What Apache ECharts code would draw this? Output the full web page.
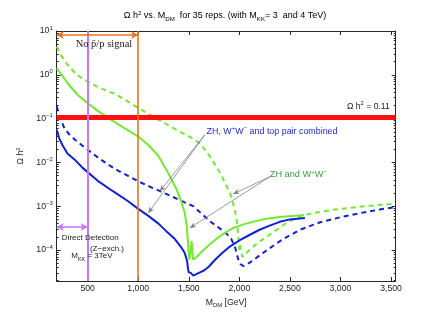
<!DOCTYPE html>
<html><head><meta charset="utf-8">
<script src="https://cdn.jsdelivr.net/npm/echarts@6/dist/echarts.min.js"></script>
<style>html,body{margin:0;padding:0;background:#fff}#c{width:436px;height:319px}</style>
</head><body><div id="c"></div>
<script>
// ---- data ----
const greenDashX = [194,240,292,391,500,620,753,880,1000,1150,1300,1414,1512,1612,1711,1810,1907,1956,1975,1990,2000,2008,2015,2031,2050,2100,2180,2269,2370,2466,2550,2630,2780,2927,3100,3300,3546];
const greenDashY = [4.4,2.7,1.8,1.0,0.7,0.5,0.38,0.26,0.175,0.11,0.07,0.05,0.038,0.027,0.0135,5.7e-3,2.0e-3,8.3e-4,4.5e-4,2e-4,1.0e-4,1.3e-4,9e-5,6.9e-5,7.5e-5,1.0e-4,1.45e-4,2.0e-4,2.9e-4,4.2e-4,5.2e-4,6.2e-4,7.3e-4,8.3e-4,9.2e-4,1.03e-3,1.14e-3];
const greenSolidX = [194,250,300,400,500,600,700,800,900,1000,1100,1200,1300,1380,1430,1460,1480,1494,1500,1506,1518,1528,1536,1544,1580,1620,1700,1780,1860,1940,2050,2150,2270,2400,2520,2640];
const greenSolidY = [1.4,0.95,0.65,0.35,0.225,0.15,0.105,0.075,0.054,0.039,0.025,0.014,5.5e-3,2.4e-3,1.2e-3,7e-4,3.5e-4,1.3e-4,8e-5,6e-5,9e-5,1.6e-4,9e-5,6e-5,7e-5,8.8e-5,1.3e-4,1.85e-4,2.5e-4,3.2e-4,3.9e-4,4.5e-4,5.2e-4,5.7e-4,6.0e-4,6.3e-4];
const blueDashX = [194,230,270,320,375,440,500,600,700,800,900,1000,1100,1215,1350,1450,1544,1620,1710,1800,1870,1920,1960,1990,2010,2038,2070,2120,2200,2300,2420,2600,2800,3000,3200,3400,3546];
const blueDashY = [0.19,0.1,0.06,0.043,0.033,0.025,0.0195,0.013,9e-3,6.5e-3,4.9e-3,3.7e-3,2.9e-3,2.2e-3,1.6e-3,1.25e-3,1.0e-3,7e-4,4.5e-4,3.2e-4,2.4e-4,1.8e-4,1.1e-4,6e-5,4.8e-5,4.3e-5,4.6e-5,5.5e-5,7.5e-5,1.1e-4,1.7e-4,2.9e-4,4.3e-4,5.6e-4,7e-4,8.5e-4,9.5e-4];
const blueSolidX = [194,220,250,300,375,450,500,600,750,900,1000,1100,1200,1280,1360,1420,1460,1484,1494,1500,1520,1544,1600,1650,1700,1760,1830,1906,2000,2100,2200,2300,2400,2500,2648];
const blueSolidY = [0.055,0.035,0.025,0.016,0.0114,7.5e-3,6e-3,3.8e-3,2.2e-3,1.3e-3,8.7e-4,6.0e-4,4e-4,2.66e-4,1.8e-4,1.2e-4,8.5e-5,5.5e-5,3.5e-5,3.1e-5,3.0e-5,2.6e-5,3.0e-5,3.4e-5,4.2e-5,6e-5,8.5e-5,1.2e-4,1.65e-4,2.2e-4,2.9e-4,3.6e-4,4.4e-4,5e-4,5.4e-4];
const xTicks = [500,1000,1500,2000,2500,3000,3500];
const relicDensity = 0.11;
const noAntiprotonBound = 1000;
const directDetectionBound = 500;

// ---- layout / style ----
const FONT = 'Liberation Sans, Arial, sans-serif';
const SERIF = 'Liberation Serif, DejaVu Serif, serif';
const GREEN = '#72ea2f', BLUE = '#0f22d4', ORANGE = '#e8731c', PURPLE = '#c977f2', RED = '#ff1010';
const AX = '#262626';
const xmin = 194, xmax = 3546, ymin = 1.96e-5, ymax = 10;
const lmin = Math.log10(ymin), lmax = Math.log10(ymax);
const minorLog = [];
for (let e = -5; e <= 0; e++) for (let k = 2; k <= 9; k++) { const v = Math.log10(k) + e; if (v > lmin && v < lmax) minorLog.push(v); }
const majorLog = [-4,-3,-2,-1,0,1];

const pts = (xs, ys) => xs.map((x, i) => [x, ys[i]]);
const richBase = (fs) => ({
  n: {fontSize: fs, lineHeight: 12, fontFamily: FONT, color: '#222'},
  sup: {fontSize: fs*0.68, lineHeight: fs*0.68, verticalAlign: 'top', fontFamily: FONT, color: '#222'},
  sub: {fontSize: fs*0.68, lineHeight: fs*0.68, verticalAlign: 'bottom', fontFamily: FONT, color: '#222'}
});
const fmtLog = v => {
  const e = Math.log10(v), r = Math.round(e);
  if (Math.abs(e - r) > 1e-6) return '';
  return '{n|10}{sup|' + (r < 0 ? '\u2212' + (-r) : r) + '}';
};
const lineAxis = {show: true, onZero: false, lineStyle: {color: AX, width: 1}};

const chart = echarts.init(document.getElementById('c'), null, {renderer: 'canvas'});
const option = {
  animation: false,
  backgroundColor: '#fff',
  grid: {left: 56.7, right: 40.3, top: 31, bottom: 38, containLabel: false},
  xAxis: [
    {type: 'value', min: xmin, max: xmax, position: 'bottom', axisLine: lineAxis,
     axisTick: {show: true, inside: true, length: 4, customValues: xTicks, lineStyle: {color: AX}},
     axisLabel: {customValues: xTicks, formatter: v => v.toLocaleString('en-US'), fontSize: 8.7, color: '#222', margin: 3, fontFamily: FONT},
     splitLine: {show: false},
     name: '{n|M}{sub|DM}{n| [GeV]}', nameLocation: 'middle', nameGap: 13,
     nameTextStyle: {rich: richBase(8.7)}},
    {type: 'value', min: xmin, max: xmax, position: 'top', axisLine: lineAxis,
     axisTick: {show: true, inside: true, length: 4, customValues: xTicks, lineStyle: {color: AX}},
     axisLabel: {show: false}, splitLine: {show: false}}
  ],
  yAxis: [
    {type: 'log', logBase: 10, min: ymin, max: ymax, position: 'left', axisLine: lineAxis,
     axisTick: {show: true, inside: true, length: 4, lineStyle: {color: AX}},
     axisLabel: {formatter: fmtLog, margin: 4, rich: richBase(8.7)},
     splitLine: {show: false}, minorTick: {show: false},
     name: '{n|\u03A9 h}{sup|2}', nameLocation: 'middle', nameGap: 23, nameRotate: 90,
     nameTextStyle: {rich: richBase(8.7)}},
    {type: 'value', min: lmin, max: lmax, position: 'left', axisLine: {show: false, onZero: false},
     axisTick: {show: true, inside: true, length: 2, customValues: minorLog, lineStyle: {color: AX}},
     axisLabel: {show: false}, splitLine: {show: false}},
    {type: 'value', min: lmin, max: lmax, position: 'right', axisLine: lineAxis,
     axisTick: {show: true, inside: true, length: 4, customValues: majorLog, lineStyle: {color: AX}},
     axisLabel: {show: false}, splitLine: {show: false}},
    {type: 'value', min: lmin, max: lmax, position: 'right', axisLine: {show: false, onZero: false},
     axisTick: {show: true, inside: true, length: 2, customValues: minorLog, lineStyle: {color: AX}},
     axisLabel: {show: false}, splitLine: {show: false}}
  ],
  series: [
    {type: 'line', data: pts(greenDashX, greenDashY), showSymbol: false, silent: true, z: 2,
     lineStyle: {color: GREEN, width: 2, type: [5, 4]}},
    {type: 'line', data: pts(blueDashX, blueDashY), showSymbol: false, silent: true, z: 2,
     lineStyle: {color: BLUE, width: 2, type: [5, 4]}},
    {type: 'line', data: pts(greenSolidX, greenSolidY), showSymbol: false, silent: true, z: 3,
     lineStyle: {color: GREEN, width: 2}},
    {type: 'line', data: pts(blueSolidX, blueSolidY), showSymbol: false, silent: true, z: 3,
     lineStyle: {color: BLUE, width: 2}},
    {type: 'line', data: [], z: 4, silent: true,
     markLine: {silent: true, animation: false, symbol: 'none', label: {show: false},
       emphasis: {disabled: true},
       data: [
         {yAxis: relicDensity, lineStyle: {color: RED, width: 5, type: 'solid'}},
         {xAxis: noAntiprotonBound, lineStyle: {color: ORANGE, width: 1.6, type: 'solid'}},
         {xAxis: directDetectionBound, lineStyle: {color: PURPLE, width: 2, type: 'solid'}},
         [{coord: [xmin, 8.1], symbol: 'arrow', symbolSize: [6, 7], lineStyle: {color: ORANGE, width: 1.6, type: 'solid'}},
          {coord: [noAntiprotonBound, 8.1], symbol: 'arrow', symbolSize: [6, 7]}],
         [{coord: [xmin, 3.35e-4], symbol: 'arrow', symbolSize: [6, 7], lineStyle: {color: PURPLE, width: 1.6, type: 'solid'}},
          {coord: [directDetectionBound, 3.35e-4], symbol: 'arrow', symbolSize: [6, 7]}],
         [{coord: [1659, 0.0427], symbol: 'none', lineStyle: {color: '#808080', width: 0.8, type: 'solid'}},
          {coord: [1214, 2.2e-3], symbol: 'arrow', symbolSize: [4, 6]}],
         [{coord: [1659, 0.0427], symbol: 'none', lineStyle: {color: '#808080', width: 0.8, type: 'solid'}},
          {coord: [1099, 7.0e-4], symbol: 'arrow', symbolSize: [4, 6]}],
         [{coord: [2301, 4.7e-3], symbol: 'none', lineStyle: {color: '#808080', width: 0.8, type: 'solid'}},
          {coord: [1939, 1.9e-3], symbol: 'arrow', symbolSize: [4, 6]}],
         [{coord: [2301, 4.7e-3], symbol: 'none', lineStyle: {color: '#808080', width: 0.8, type: 'solid'}},
          {coord: [1511, 3.2e-4], symbol: 'arrow', symbolSize: [4, 6]}]
       ]}}
  ]
};
chart.setOption(option);

const px = (x, y) => chart.convertToPixel({xAxisIndex: 0, yAxisIndex: 0}, [x, y]);
function txt(pos, text, opts) {
  const p = px(pos[0], pos[1]);
  return {type: 'text', x: p[0], y: p[1], silent: true, z: 10,
    style: Object.assign({text: text, fontFamily: FONT, fontSize: 8.5, fill: '#222', align: 'center', verticalAlign: 'middle'}, opts)};
}
const colRich = (fs, col) => {
  const r = richBase(fs);
  Object.keys(r).forEach(k => { r[k].color = col; r[k].fill = col; });
  return r;
};
chart.setOption({graphic: [
  {type: 'text', x: 225, y: 16, silent: true,
   style: {text: '{n|\u03A9 h}{sup|2}{n| vs. M}{sub|DM}{n|  for 35 reps. (with M}{sub|KK}{n|= 3  and 4 TeV)}',
     rich: richBase(9), align: 'center', verticalAlign: 'middle'}},
  txt([661, 4.98], 'No p\u0304/p signal', {fontFamily: SERIF, fontSize: 10.5}),
  txt([3487, 0.188], '{n|\u03A9 h}{sup|2}{n| = 0.11}', {rich: richBase(8.6), align: 'right'}),
  txt([1676, 0.051], '{n|ZH, W}{sup|+}{n|W}{sup|\u2212}{n| and top pair combined}', {rich: colRich(8.9, '#2424d8'), align: 'left'}),
  txt([2301, 5.2e-3], '{n|ZH and W}{sup|+}{n|W}{sup|\u2212}', {rich: colRich(9.2, '#3a9c3a'), align: 'left'}),
  txt([526, 1.88e-4], 'Direct Detection', {fontSize: 8}),
  txt([691, 1.06e-4], '(Z\u2212exch.)', {fontSize: 8}),
  txt([542, 7.4e-5], '{n|M}{sub|KK}{n| = 3TeV}', {rich: richBase(8)})
]});
</script>
</body></html>
